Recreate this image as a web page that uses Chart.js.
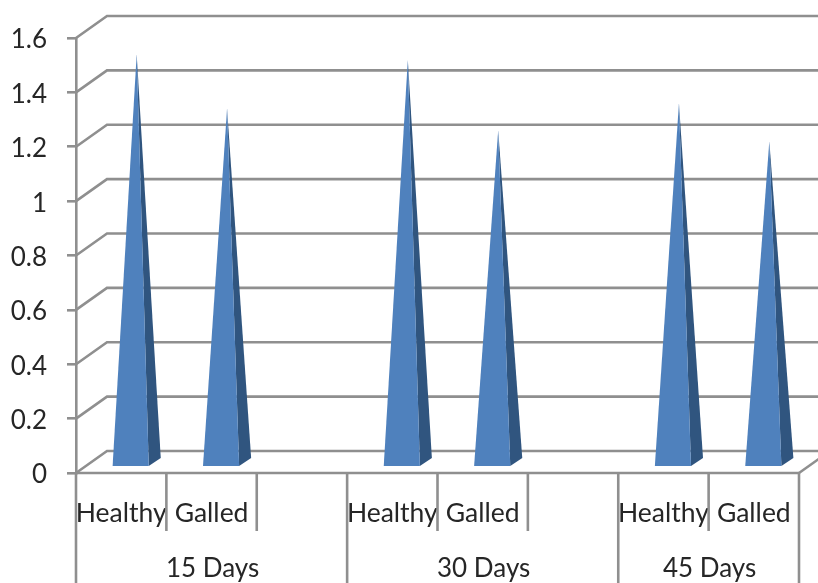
<!DOCTYPE html>
<html>
<head>
<meta charset="utf-8">
<style>html,body{margin:0;padding:0;background:#fff}canvas{display:block}</style>
<script src="https://cdn.jsdelivr.net/npm/chart.js@4"></script>
</head>
<body>
<canvas id="c" width="818" height="583"></canvas>
<script>
const categories = ['Healthy','Galled','','Healthy','Galled','','Healthy','Galled'];
const values = [1.5,1.3,null,1.48,1.22,null,1.32,1.18];
const groups = ['15 Days','30 Days','45 Days'];
const groupStarts = [0,3,6];
const groupEnds = [3,6,8];
const shortDividers = [1,2,4,5,7];
const yMax = 1.6, yStep = 0.2;

const FONT = 'Lato';
const GRID = '#8f8f8f', TEXT = '#262626', FRONT = '#4f81bd', SIDE = '#30557f';
const DEPTH_X = 31, DEPTH_Y = 22, LINE = 2.6, FONT_SIZE = 26.5, SMALL_FONT = 26;

function edge(x, i){ return x.left + (x.right - x.left) * i / categories.length; }
function seg(ctx, a, b, c, d){ ctx.beginPath(); ctx.moveTo(a,b); ctx.lineTo(c,d); ctx.stroke(); }

const wall = {
  id:'wall',
  beforeDatasetsDraw(chart){
    const {ctx, scales:{x,y}} = chart;
    ctx.save();
    ctx.strokeStyle = GRID; ctx.lineWidth = LINE; ctx.lineCap = 'butt';
    y.ticks.forEach(t => {
      const py = y.getPixelForValue(t.value);
      ctx.beginPath();
      ctx.moveTo(x.left, py);
      ctx.lineTo(x.left + DEPTH_X, py - DEPTH_Y);
      ctx.lineTo(chart.width, py - DEPTH_Y);
      ctx.stroke();
    });
    const p0 = y.getPixelForValue(0);
    seg(ctx, x.left, p0, x.right, p0);
    seg(ctx, x.right, p0, x.right + DEPTH_X, p0 - DEPTH_Y);
    shortDividers.forEach(i => seg(ctx, edge(x,i), p0, edge(x,i), p0 + 58));
    groupStarts.concat(groupEnds[groupEnds.length-1]).forEach(i => seg(ctx, edge(x,i), p0, edge(x,i), chart.height));
    ctx.restore();
  },
  afterDatasetsDraw(chart){
    const {ctx, scales:{y}} = chart;
    const meta = chart.getDatasetMeta(0);
    const p0 = y.getPixelForValue(0);
    ctx.save();
    meta.data.forEach((el, i) => {
      if (values[i] === null) return;
      const w = el.width, l = el.x - w/2 + 9.5, r = l + w;
      const baseY = p0 - 7, sideX = r + 12, sideY = baseY - 8;
      const ax = (l + r)/2 + 6, ay = el.y - 11;
      ctx.fillStyle = SIDE;
      ctx.beginPath(); ctx.moveTo(r,baseY); ctx.lineTo(sideX,sideY); ctx.lineTo(ax,ay); ctx.closePath(); ctx.fill();
      ctx.fillStyle = FRONT;
      ctx.beginPath(); ctx.moveTo(l,baseY); ctx.lineTo(r,baseY); ctx.lineTo(ax,ay); ctx.closePath(); ctx.fill();
    });
    ctx.restore();
  },
  afterDraw(chart){
    const {ctx, scales:{x,y}} = chart;
    ctx.save();
    ctx.fillStyle = TEXT;
    ctx.font = SMALL_FONT + 'px ' + FONT;
    ctx.textAlign = 'center'; ctx.textBaseline = 'middle';
    groups.forEach((g,i) => {
      const cx = (edge(x,groupStarts[i]) + edge(x,groupEnds[i])) / 2;
      ctx.fillText(g, cx + 1, y.getPixelForValue(0) + 96);
    });
    ctx.restore();
  }
};

new Chart(document.getElementById('c'), {
  type:'bar',
  data:{ labels:categories, datasets:[{ data:values, backgroundColor:'rgba(0,0,0,0)', borderWidth:0, barPercentage:0.4, categoryPercentage:1 }] },
  plugins:[wall],
  options:{
    responsive:false, animation:false,
    layout:{ padding:{ top:38, right:19, left:0, bottom:0 } },
    plugins:{ legend:{display:false}, tooltip:{enabled:false}, title:{display:false} },
    scales:{
      x:{
        afterFit(s){ s.height = 110; },
        grid:{ display:false },
        border:{ display:false },
        ticks:{ autoSkip:false, maxRotation:0, minRotation:0, color:TEXT, font:{family:FONT,size:FONT_SIZE}, padding:17 }
      },
      y:{
        min:0, max:yMax,
        afterFit(s){ s.width = 76; },
        grid:{ drawOnChartArea:false, color:GRID, lineWidth:LINE, tickLength:9 },
        border:{ color:GRID, width:LINE },
        ticks:{ stepSize:yStep, color:TEXT, font:{family:FONT,size:SMALL_FONT}, padding:20, labelOffset:2,
                callback:v => String(Math.round(v*10)/10) }
      }
    }
  }
});
</script>
</body>
</html>
